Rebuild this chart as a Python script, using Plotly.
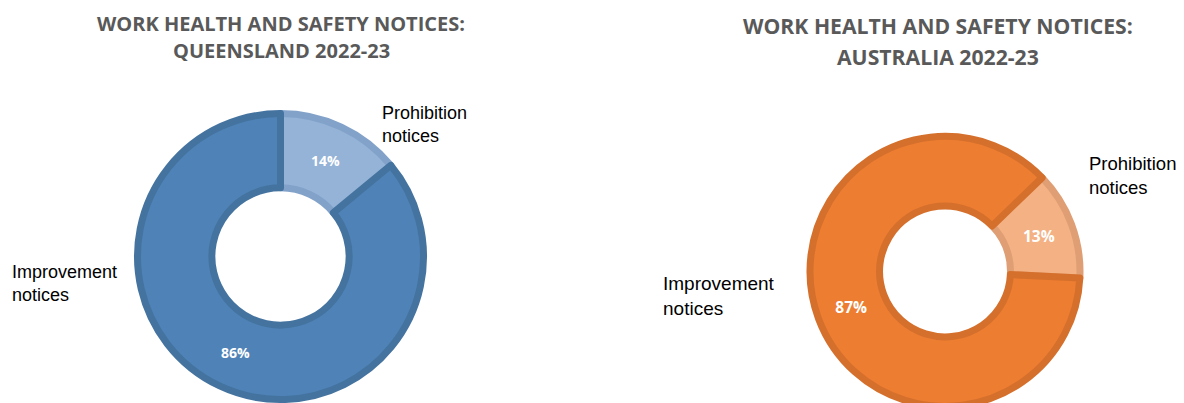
import plotly.graph_objects as go

W, H = 1184, 403
OX, OY = 8, 8  # page body margin offset of the figure inside the window

# ---- data ----
categories = ["Prohibition notices", "Improvement notices"]
qld_values = [14, 86]
aus_values = [13, 87]
qld_title = ["WORK HEALTH AND SAFETY NOTICES:", "QUEENSLAND 2022-23"]
aus_title = ["WORK HEALTH AND SAFETY NOTICES:", "AUSTRALIA 2022-23"]
label_text = ["Prohibition<br>notices", "Improvement<br>notices"]

qld_fill = ["#95B3D7", "#4F83B8"]
qld_line = ["#82A2CA", "#44739F"]
aus_fill = ["#F4B183", "#ED7D31"]
aus_line = ["#DF9E74", "#D5702C"]


def px(x):
    return (x - OX) / W


def py(y):
    return 1 - (y - OY) / H


fig = go.Figure()

# Queensland donut (screen coordinates)
cx, cy, r = 280.5, 256.5, 143
fig.add_trace(go.Pie(
    labels=categories, values=qld_values, sort=False, direction="clockwise",
    rotation=0, hole=0.48,
    domain=dict(x=[px(cx - r), px(cx + r)], y=[py(cy + r), py(cy - r)]),
    marker=dict(colors=qld_fill, line=dict(color=qld_line, width=7)),
    texttemplate="%{percent:.0%}", textposition="inside",
    insidetextorientation="horizontal",
    textfont=dict(family="Open Sans", size=14, color="white", weight="bold"),
    showlegend=False, hoverinfo="label+percent",
))

# Australia donut
cx2, cy2, r2 = 945, 271.4, 135
fig.add_trace(go.Pie(
    labels=categories, values=aus_values, sort=False, direction="clockwise",
    rotation=46, hole=0.485,
    domain=dict(x=[px(cx2 - r2), px(cx2 + r2)], y=[py(cy2 + r2), py(cy2 - r2)]),
    marker=dict(colors=aus_fill, line=dict(color=aus_line, width=7)),
    texttemplate="%{percent:.0%}", textposition="inside",
    insidetextorientation="horizontal",
    textfont=dict(family="Open Sans", size=15.5, color="white", weight="bold"),
    showlegend=False, hoverinfo="label+percent",
))

annotations = []
# titles
for line, y, size in [(qld_title[0], 23.5, 20), (qld_title[1], 50.5, 20)]:
    annotations.append(dict(text=line, x=px(281), y=py(y), xref="paper", yref="paper",
                            xanchor="center", yanchor="middle", showarrow=False,
                            font=dict(family="Open Sans", size=size, color="#595959", weight="bold")))
for line, y, size in [(aus_title[0], 25.5, 21.2), (aus_title[1], 56, 21.2)]:
    annotations.append(dict(text=line, x=px(938), y=py(y), xref="paper", yref="paper",
                            xanchor="center", yanchor="middle", showarrow=False,
                            font=dict(family="Open Sans", size=size, color="#595959", weight="bold")))

# category labels
for text, x, y, size in [
    (label_text[0], 380, 125, 18),
    (label_text[1], 10, 283, 18),
    (label_text[0], 1087, 176, 18.5),
    (label_text[1], 661, 296, 19),
]:
    annotations.append(dict(text=text, x=px(x), y=py(y), xref="paper", yref="paper",
                            xanchor="left", yanchor="middle", align="left", showarrow=False,
                            font=dict(family="Liberation Sans", size=size, color="#000000")))

fig.update_layout(
    width=W, height=H,
    margin=dict(l=0, r=0, t=0, b=0),
    paper_bgcolor="white", plot_bgcolor="white",
    annotations=annotations,
)

fig.write_html("out.html")
